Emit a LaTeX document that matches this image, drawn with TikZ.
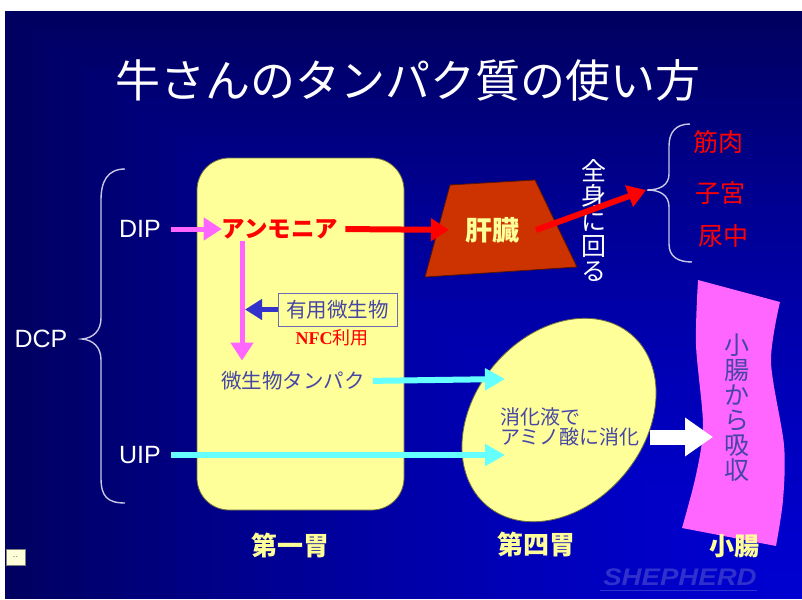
\documentclass[tikz,border=0pt]{standalone}
\usepackage{fontspec}
\setmainfont{Noto Sans CJK JP}
\newfontfamily\lat{Liberation Sans}
\newfontfamily\ser{Liberation Serif}
\usetikzlibrary{arrows.meta,shapes.geometric,calc}
\newcommand\fsz[1]{\fontsize{#1}{#1}\selectfont}
\definecolor{bgdark}{RGB}{0,0,96}
\definecolor{bgbright}{RGB}{0,0,208}
\definecolor{lyellow}{RGB}{255,255,153}
\definecolor{yedge}{RGB}{110,110,60}
\definecolor{pinkc}{RGB}{255,102,255}
\definecolor{cyanc}{RGB}{102,255,255}
\definecolor{slate}{RGB}{70,70,165}
\definecolor{liver}{RGB}{204,51,0}
\definecolor{liveredge}{RGB}{90,20,0}
\definecolor{bluearr}{RGB}{51,51,204}
\definecolor{bracec}{RGB}{200,200,230}
\definecolor{shep}{RGB}{48,48,205}
\tikzset{
  txt/.style={inner sep=0pt, outer sep=0pt},
  bracepath/.style={draw=bracec, line width=1.4pt},
  pinkarr/.style={draw=pinkc, line width=5pt, -{Triangle[length=18pt,width=22pt]}},
  redarr/.style={draw=red, line width=6pt, -{Triangle[length=18pt,width=22pt]}},
  cyanarr/.style={draw=cyanc, line width=6pt, -{Triangle[length=20pt,width=21pt]}},
  bluearrow/.style={draw=bluearr, line width=5pt, -{Triangle[length=17pt,width=20pt]}},
  whitearr/.style={draw=white, line width=15pt, -{Triangle[length=28pt,width=37pt]}},
}
\begin{document}
\begin{tikzpicture}[x=1pt,y=-1pt]
\useasboundingbox (0,0) rectangle (802,599);
\fill[white] (0,0) rectangle (802,599);
% corner gradient towards bottom right
\foreach \i in {0,...,60} {
  \pgfmathsetmacro\gt{1-\i/61}
  \pgfmathsetmacro\gf{100*(1-\gt*sqrt(\gt))}
  \fill[bgbright!\gf!bgdark] ({5+13.0656*\i},{11+9.6393*\i}) rectangle (802,599);
}

% title
\node[txt, white, font=\fsz{45}] (title) at (408,80) {牛さんのタンパク質の使い方};

% left brace and labels
\draw[bracepath] (125,169) .. controls (107,169) and (101,182) .. (101,200) -- (101,318)
  .. controls (101,331) and (93,338) .. (82,339) .. controls (93,340) and (101,347) .. (101,360)
  -- (101,478) .. controls (101,496) and (107,503) .. (125,503);
\node[txt, white, font=\lat\fsz{25}] (dcp) at (41,339) {DCP};
\node[txt, white, font=\lat\fsz{25}] (dip) at (140,229) {DIP};
\node[txt, white, font=\lat\fsz{25}] (uip) at (140,455) {UIP};

% rumen
\node[draw=yedge, line width=0.8pt, fill=lyellow, rounded corners=32pt, minimum width=207pt, minimum height=352pt, inner sep=0pt] (rumen) at (300.5,334) {};
\node[txt, lyellow, font=\bfseries\fsz{26}] (rumenlbl) at (290,545) {第一胃};

\node[txt, red, font=\bfseries\fsz{23.5}] (ammonia) at (280,229) {アンモニア};
\node[draw=slate!80, line width=1pt, fill=lyellow, minimum width=119pt, minimum height=33pt, inner sep=0pt, text=slate, font=\fsz{20.5}] (yuyo) at (337.5,309.5) {有用微生物};
\node[txt, red, font=\fsz{18}] (nfc) at (332,338) {{\ser\bfseries NFC}利用};
\node[txt, slate, font=\fsz{20.5}] (mtp) at (293,381) {微生物タンパク};
\coordinate (downx) at (242,0);

% liver
\filldraw[fill=liver, draw=liveredge, line width=0.8pt] (450,185) -- (535,180) -- (577,267) -- (425,277) -- cycle;
\node[txt, lyellow, font=\bfseries\fsz{27}] (liver) at (492,230) {肝臓};

% whole body text
\node[txt, white, align=center, font=\fsz{25}] (zenshin) at (594,221) {全\\身\\に\\回\\る};

% right brace and targets
\draw[bracepath] (690,124) .. controls (676,124) and (669,132) .. (669,146) -- (669,174)
  .. controls (669,185) and (660,190) .. (647,190) .. controls (660,190) and (669,195) .. (669,207)
  -- (669,244) .. controls (669,256) and (677,262) .. (692,262);
\coordinate (bracetip) at (646,190);
\node[txt, red, font=\fsz{25}] (muscle) at (718,142) {筋肉};
\node[txt, red, font=\fsz{25}] (uterus) at (720,193) {子宮};
\node[txt, red, font=\fsz{25}] (urine) at (723,236) {尿中};

% abomasum
\node[ellipse, draw=yedge, line width=0.8pt, fill=lyellow, minimum width=224pt, minimum height=170pt, rotate=50, inner sep=0pt] (abom) at (559,420) {};
\node[txt, slate, align=left, anchor=west, font=\fsz{20}, text depth=0pt] (digest) at (500,426) {\fontsize{20}{28}\selectfont 消化液で\\アミノ酸に消化};
\node[txt, lyellow, font=\bfseries\fsz{26}] (abomlbl) at (536,544) {第四胃};
\coordinate (abomin1) at (505,379);
\coordinate (abomin2) at (505,455);

% small intestine
\fill[pinkc] (698,280) -- (780,302) -- plot[smooth] coordinates {(780,302) (771,362) (784,445) (783,500) (776,546)}
  -- (682,528) -- plot[smooth] coordinates {(682,528) (696,475) (703,425) (696,345) (698,280)} -- cycle;
\node[txt, slate, align=center, font=\fsz{25}] (absorb) at (737,408) {小\\腸\\か\\ら\\吸\\収};
\node[txt, lyellow, font=\bfseries\fsz{25}] (intlbl) at (734,546) {小腸};
\coordinate (wtip) at (713,437);

% arrows
\draw[pinkarr, shorten <=10pt] (dip.east) -- (dip.east -| ammonia.west);
\draw[redarr, shorten <=7pt, shorten >=16pt] (ammonia.east) -- (liver.west);
\draw[redarr] ([xshift=17pt]liver.east) -- (bracetip);
\draw[pinkarr, shorten <=2pt, shorten >=11pt] (ammonia.south -| downx) -- (mtp.north -| downx);
\draw[bluearrow, shorten >=3pt] (yuyo.west) -- (yuyo.west -| downx);
\draw[cyanarr, shorten <=8pt] (mtp.east) -- (abomin1);
\draw[cyanarr, shorten <=10pt] (uip.east) -- (abomin2);
\draw[whitearr, shorten <=10pt] (digest.east |- wtip) -- (wtip);

% signature and small box
\node[txt, shep, font=\lat\bfseries\itshape\fsz{24}] (shepherd) at (680,577) {\scalebox{1.15}[1]{SHEPHERD}};
\draw[shep, line width=1.5pt] ($(shepherd.south west)+(-3,5)$) -- ($(shepherd.south east)+(0,5)$);
\node[draw=gray, fill={rgb,255:red,255;green,255;blue,215}, minimum width=19pt, minimum height=16pt, inner sep=0pt, text=gray, font=\fsz{9}] (dots) at (15.5,557) {..};
\end{tikzpicture}
\end{document}
